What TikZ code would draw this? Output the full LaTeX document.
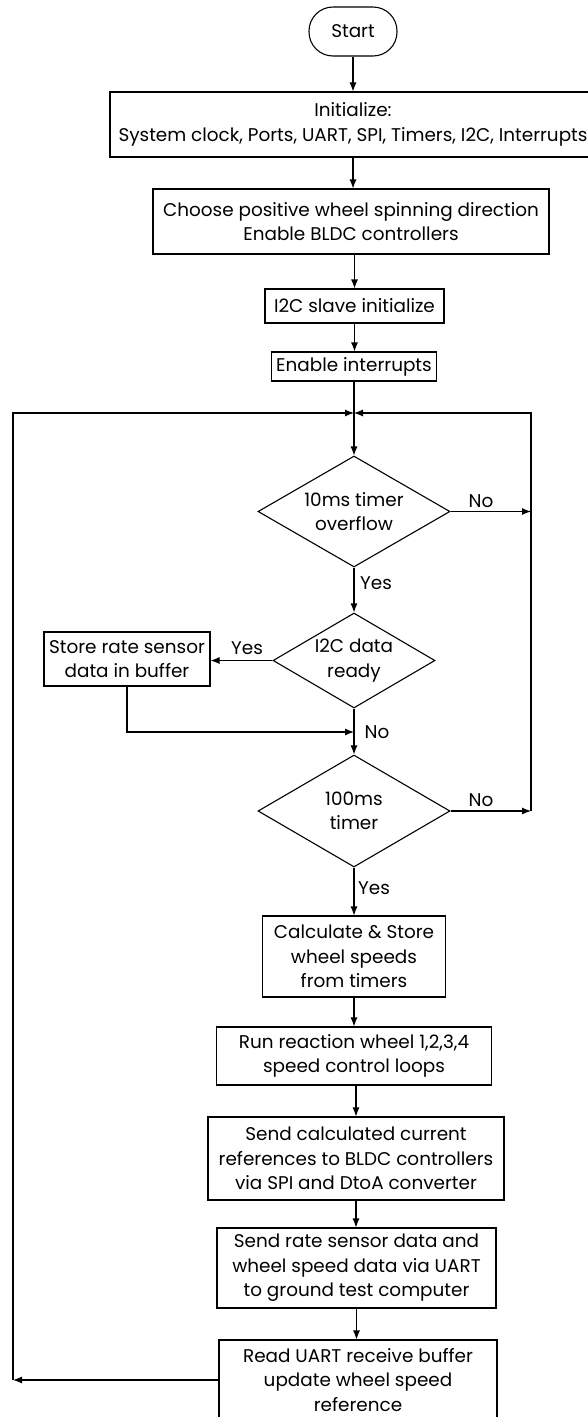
\documentclass[tikz,border=0pt]{standalone}
\usepackage{fontspec}
\setmainfont{Poppins}
\usetikzlibrary{shapes.geometric,arrows.meta}
\begin{document}
\begin{tikzpicture}[x=1pt,y=-1pt,
  txt/.style={font=\fontsize{18.4}{24.5}\selectfont},
  box/.style={draw, line width=1.1pt, align=center, inner sep=0pt, txt},
  dec/.style={draw, line width=1.1pt, diamond, inner sep=0pt},
  dtx/.style={align=center, inner sep=0pt, txt},
  lbl/.style={inner sep=1pt, txt},
  arr/.style={-{Latex[length=9pt,width=7pt]}, line width=1.1pt},
  ln/.style={line width=1.1pt}]
\useasboundingbox (0,0) rectangle (588,1417);
\node[box, minimum width=88, minimum height=49, rounded corners=24pt] (start) at (353,31.5) {Start};
\node[box, minimum width=486, minimum height=65] (init) at (353,124.5) {Initialize:\\System clock, Ports, UART, SPI, Timers, I2C, Interrupts};
\node[box, minimum width=396, minimum height=65] (choose) at (351,221.5) {Choose positive wheel spinning direction\\Enable BLDC controllers};
\node[box, minimum width=179, minimum height=34] (slave) at (354.5,306) {I2C slave initialize};
\node[box, minimum width=165, minimum height=29] (enable) at (354,366.5) {Enable interrupts};
\coordinate (j) at (354,413);
\node[dec, minimum width=192, minimum height=111, aspect=1.73] (d1) at (354,511.5) {};
\node[dtx] (d1t) at (d1.center) {10ms timer\\overflow};
\node[dec, minimum width=162, minimum height=95, aspect=1.7] (d2) at (354,660.5) {};
\node[dtx] (d2t) at (d2.center) {I2C data\\ready};
\node[box, minimum width=166, minimum height=54] (store) at (127,659) {Store rate sensor\\data in buffer};
\coordinate (m) at (354,732);
\node[dec, minimum width=192, minimum height=112, aspect=1.71] (d3) at (354,811) {};
\node[dtx] (d3t) at (d3.center) {100ms\\timer};
\node[box, minimum width=183, minimum height=81] (calc) at (354,956.5) {Calculate \& Store\\wheel speeds\\from timers};
\node[box, minimum width=275, minimum height=58] (run) at (354,1056) {Run reaction wheel 1,2,3,4\\speed control loops};
\node[box, minimum width=296, minimum height=83] (sendc) at (356,1158.5) {Send calculated current\\references to BLDC controllers\\via SPI and DtoA converter};
\node[box, minimum width=279, minimum height=80] (sendr) at (356.5,1268) {Send rate sensor data and\\wheel speed data via UART\\to ground test computer};
\node[box, minimum width=278, minimum height=80] (read) at (358,1380) {Read UART receive buffer\\update wheel speed\\reference};
\coordinate (rt) at (531,413);
\coordinate (r1) at (531,511.5);
\coordinate (r3) at (531,811);
\coordinate (lt) at (13,413);
% labels
\node[lbl] (no1) at (481,501) {No};
\node[lbl] (yes1) at (376,583) {Yes};
\node[lbl] (yes2) at (247,648) {Yes};
\node[lbl] (no2) at (377,732) {No};
\node[lbl] (no3) at (481,800) {No};
\node[lbl] (yes3) at (374,888) {Yes};
% connectors
\draw[arr] (start.south) -- (start.south |- init.north);
\draw[arr] (init.south) -- (init.south |- choose.north);
\draw[arr] (slave.north |- choose.south) -- (slave.north);
\draw[arr] (slave.south) -- (slave.south |- enable.north);
\draw[arr] (enable.south) -- (d1.north);
\draw[arr] (d1.south) -- (d2.north);
\draw[arr] (d2.west) -- (d2.west -| store.east);
\draw[arr] (store.south) |- (m);
\draw[arr] (d2.south) -- (d3.north);
\draw[arr] (d1.east) -- (r1);
\draw[arr] (d3.east) -- (r3);
\draw[arr] (r3) -- (rt) -- (j);
\draw[arr] (d3.south) -- (calc.north);
\draw[arr] (calc.south) -- (run.north);
\draw[arr] (sendc.north |- run.south) -- (sendc.north);
\draw[arr] (sendc.south) -- (sendc.south |- sendr.north);
\draw[arr] (sendr.south) -- (sendr.south |- read.north);
\draw[arr] (read.west) -- (read.west -| lt);
\draw[arr] (read.west -| lt) -- (lt) -- (j);
\end{tikzpicture}
\end{document}
